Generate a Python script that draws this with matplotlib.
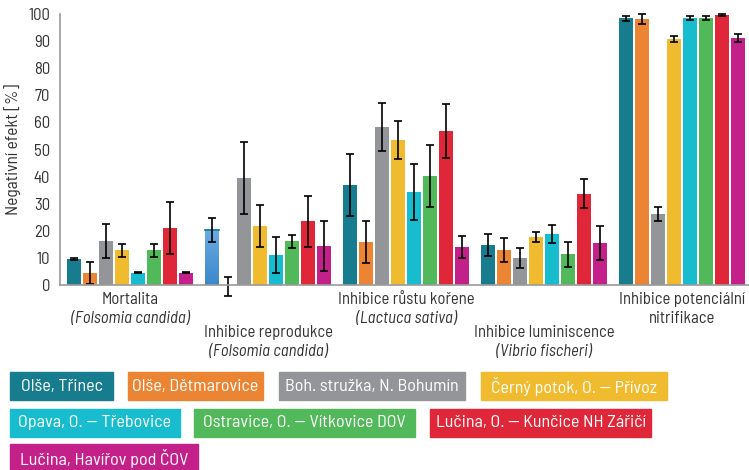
import numpy as np
import matplotlib
matplotlib.use('Agg')
import matplotlib.pyplot as plt

# Data
sites = ['Olše, Třinec', 'Olše, Dětmarovice', 'Boh. stružka, N. Bohumín',
         'Černý potok, O. — Přívoz', 'Opava, O. — Třebovice',
         'Ostravice, O. — Vítkovice DOV', 'Lučina, O. — Kunčice NH Zářičí',
         'Lučina, Havířov pod ČOV']
colors = ['#177d8e', '#ec8533', '#939598', '#f0bb2f', '#17bdcf', '#52b95b',
          '#e0273a', '#c4208a']

tests = ['Mortalita\n(Folsomia candida)', 'Inhibice reprodukce\n(Folsomia candida)',
         'Inhibice růstu kořene\n(Lactuca sativa)',
         'Inhibice luminiscence\n(Vibrio fischeri)',
         'Inhibice potenciální\nnitrifikace']

# values per site (rows) and test (columns)
values = np.array([
    [9.5, 20.3, 36.9, 14.8, 98.5],
    [4.5, -0.5, 15.9, 12.9, 98.2],
    [16.3, 39.5, 58.3, 10.0, 26.2],
    [12.9, 21.8, 53.5, 17.7, 90.8],
    [4.5, 11.1, 34.3, 18.8, 98.5],
    [12.9, 16.2, 40.2, 11.4, 98.5],
    [21.0, 23.6, 56.8, 33.7, 99.6],
    [4.5, 14.4, 14.0, 15.5, 91.1],
])
errors = np.array([
    [0.3, 4.5, 11.5, 4.2, 0.9],
    [4.0, 3.5, 7.6, 4.3, 1.8],
    [6.3, 13.3, 8.8, 3.6, 2.7],
    [2.4, 7.6, 7.0, 1.9, 1.1],
    [0.2, 6.6, 10.2, 3.4, 0.6],
    [2.4, 2.4, 11.5, 4.6, 0.8],
    [9.5, 9.4, 10.0, 5.4, 0.5],
    [0.2, 9.4, 3.9, 6.1, 1.6],
])

plt.rcParams['font.family'] = ['Barlow Semi Condensed', 'Roboto', 'DejaVu Sans']
text_col = '#333333'

fig = plt.figure(figsize=(7.49, 4.70), dpi=100)
W, H = 749, 470
# axes placed in pixel terms
ax = fig.add_axes([60 / W, 1 - 285 / H, 689 / W, 271 / H])

n = len(sites)
group_step = 8.625
width = 0.875
for i in range(n):
    x = np.arange(len(tests)) * group_step + i
    ax.bar(x, values[i], width=width, color=colors[i], zorder=2)
    ax.errorbar(x, values[i], yerr=errors[i], fmt='none', ecolor='black',
                elinewidth=1.2, capsize=3, capthick=1.2, zorder=3,
                clip_on=False)

# the first bar in the second group is drawn in a blue gradient in the original
bx = group_step
grad = np.linspace(0, 1, 100).reshape(-1, 1)
cmap = matplotlib.colors.LinearSegmentedColormap.from_list('b', ['#3b88cb', '#6cabe2'])
ax.bar(bx, values[0, 1], width=width, color='#559bd9', zorder=2)
ax.imshow(grad, cmap=cmap, origin='lower', aspect='auto', zorder=2.5,
          extent=[bx - width / 2, bx + width / 2, 0, values[0, 1]])
ax.plot([bx - width / 2, bx + width / 2], [values[0, 1]] * 2, color=colors[0],
        lw=1.2, zorder=2.6)

ax.set_xlim(-0.875, 4 * group_step + 7 + 0.6875)
ax.set_ylim(0, 100)
ax.set_yticks(np.arange(0, 101, 10))
ax.tick_params(axis='y', length=0, labelsize=12, colors=text_col, pad=7)
ax.set_xticks([])
for s in ['top', 'right']:
    ax.spines[s].set_visible(False)
for s in ['left', 'bottom']:
    ax.spines[s].set_color('#9a9a9a')
    ax.spines[s].set_linewidth(1.2)
    ax.spines[s].set_zorder(4)
ax.set_ylabel('Negativní efekt [%]', fontsize=12.5, color=text_col, labelpad=5)

# category labels, staggered
for g, t in enumerate(tests):
    name, sub = t.split('\n')
    xc = g * group_step + 3.5
    y0 = -5.2 if g % 2 == 0 else -17.6
    ax.text(xc, y0, name, ha='center', va='center', fontsize=12, color=text_col,
            clip_on=False)
    ax.text(xc, y0 - 7, sub, ha='center', va='center', fontsize=12,
            color=text_col, style='italic' if sub.startswith('(') else 'normal',
            clip_on=False)

# legend: coloured boxes laid out as in the original (pixel left, right, row centre)
legend_boxes = [(10, 113, 386), (128, 263, 386), (279, 465, 386), (481, 667, 386),
                (10, 180, 422.5), (194, 415, 422.5), (430, 651, 422.5),
                (10, 198, 458)]
fig.canvas.draw()
renderer = fig.canvas.get_renderer()
box_h = 28
for lab, col, (x0, x1, yc) in zip(sites, colors, legend_boxes):
    fig.patches.append(matplotlib.patches.Rectangle(
        (x0 / W, 1 - (yc + box_h / 2) / H), (x1 - x0) / W, box_h / H,
        transform=fig.transFigure, color=col, zorder=0))
    t = fig.text((x0 + x1) / 2 / W, 1 - yc / H, lab, fontsize=13,
                 color='white', va='center', ha='center')
    # shrink text that would not fit its box
    tw = t.get_window_extent(renderer).width
    if tw > (x1 - x0) - 6:
        t.set_fontsize(13 * ((x1 - x0) - 6) / tw)

fig.savefig('out.png', dpi=100)
